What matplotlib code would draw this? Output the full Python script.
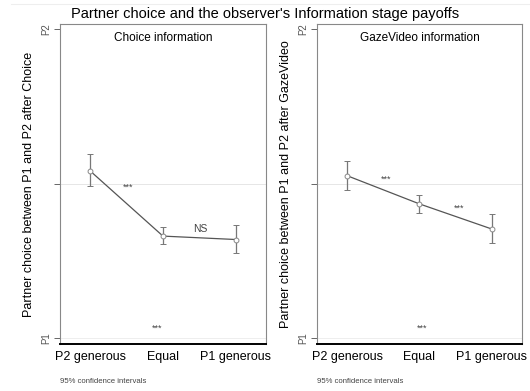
import numpy as np
import matplotlib.pyplot as plt
from matplotlib.lines import Line2D

plt.rcParams['font.family'] = ['Liberation Sans', 'DejaVu Sans']

# Data (0 = P1, 1 = P2)
cats = ['P2 generous', 'Equal', 'P1 generous']
choice_mean = [0.540, 0.330, 0.319]
choice_lo = [0.492, 0.305, 0.275]
choice_hi = [0.594, 0.358, 0.365]
gaze_mean = [0.525, 0.434, 0.353]
gaze_lo = [0.479, 0.405, 0.307]
gaze_hi = [0.574, 0.463, 0.400]

# significance labels: (x, y, text)
choice_notes = [(1.52, 0.487, '***'), (2.52, 0.353, 'NS'), (1.92, 0.031, '***')]
gaze_notes = [(1.54, 0.513, '***'), (2.55, 0.420, '***'), (2.04, 0.031, '***')]

fig = plt.figure(figsize=(5.30, 3.91), dpi=100)
fig.add_artist(Line2D([0.02, 1.0], [0.99, 0.99], color='#eeeeee', lw=0.8))
fig.suptitle("Partner choice and the observer's Information stage payoffs",
             fontsize=10.5, y=0.982)

panels = [
    ([0.113, 0.120, 0.389, 0.819], choice_mean, choice_lo, choice_hi,
     'Choice information', 'Partner choice between P1 and P2 after Choice', choice_notes),
    ([0.598, 0.120, 0.387, 0.819], gaze_mean, gaze_lo, gaze_hi,
     'GazeVideo information', 'Partner choice between P1 and P2 after GazeVideo', gaze_notes),
]

x = np.arange(1, 4)
for pos, m, lo, hi, title, ylab, notes in panels:
    ax = fig.add_axes(pos)
    m = np.array(m)
    err = [m - np.array(lo), np.array(hi) - m]
    ax.axhline(0.5, color='#e6e6e6', lw=0.7, zorder=0)
    ax.axhline(0.0, color='#eeeeee', lw=0.7, zorder=0)
    ax.plot(x, m, color='#555555', lw=0.9, zorder=2)
    ax.errorbar(x, m, yerr=err, fmt='o', color='#777777', mfc='white',
                mec='#888888', ms=3.5, mew=0.7, elinewidth=0.9, capsize=2.5,
                capthick=0.9, zorder=3)
    for nx, ny, t in notes:
        ax.text(nx, ny, t, ha='center', va='center',
                fontsize=6.5 if t == '***' else 7.5, color='#444444')
    ax.text(0.5, 0.975, title, transform=ax.transAxes, ha='center', va='top',
            fontsize=8.5)
    ax.set_xlim(0.58, 3.42)
    ax.set_ylim(-0.019, 1.016)
    ax.set_xticks(x)
    ax.set_xticklabels(cats, fontsize=9)
    ax.tick_params(axis='x', length=0, pad=5)
    ax.set_yticks([0, 0.5, 1])
    ax.set_yticklabels(['P1', '', 'P2'], rotation=90, va='center',
                       fontsize=7, color='#555555')
    ax.tick_params(axis='y', length=4, color='#666666', width=0.7, pad=2)
    ax.set_ylabel(ylab, fontsize=9, labelpad=5)
    for s in ['top', 'right', 'left']:
        ax.spines[s].set_color('#888888')
        ax.spines[s].set_linewidth(0.8)
    ax.spines['bottom'].set_color('black')
    ax.spines['bottom'].set_linewidth(1.4)
    ax.text(0.0, -0.105, '95% confidence intervals', transform=ax.transAxes,
            fontsize=5.6, color='#444444', va='top')

plt.savefig('out.png', dpi=100)
